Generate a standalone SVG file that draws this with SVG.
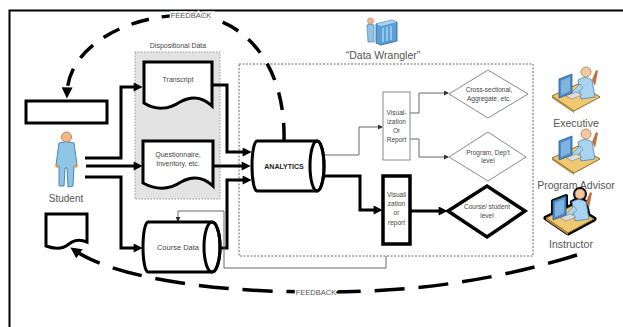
<svg xmlns="http://www.w3.org/2000/svg" xmlns:xlink="http://www.w3.org/1999/xlink" width="623" height="327" viewBox="0 0 623 327">
<style>
.thick{fill:none;stroke:#000;stroke-width:3;stroke-linejoin:miter}
.thin{fill:none;stroke:#666;stroke-width:1}
.fb{fill:none;stroke:#000;stroke-width:3.5}
.shape{fill:#fff;stroke:#000;stroke-width:3}
.t{font-family:"Liberation Sans",Arial,sans-serif;fill:#444;text-anchor:middle}
.s7{font-size:7px}
.s65{font-size:6.5px}
.lbl{font-size:10.5px;fill:#555}
.fbt{font-size:7.5px;fill:#555;stroke:#fff;stroke-width:3;paint-order:stroke}
</style>
<defs>
<marker id="ah" viewBox="0 0 10 10" refX="6" refY="5" markerWidth="10" markerHeight="9" markerUnits="userSpaceOnUse" orient="auto"><path d="M0,0 L10,5 L0,10 Z" fill="#000"/></marker>
<marker id="ahs" viewBox="0 0 10 10" refX="8" refY="5" markerWidth="5" markerHeight="5" markerUnits="userSpaceOnUse" orient="auto"><path d="M0,0 L10,5 L0,10 Z" fill="#333"/></marker>
<marker id="ahf" viewBox="0 0 10 10" refX="6" refY="5" markerWidth="12" markerHeight="11" markerUnits="userSpaceOnUse" orient="auto"><path d="M0,0 L10,5 L0,10 Z" fill="#000"/></marker>
<g id="deskPerson">
<path d="M0,30 L26,18 L48,31 L22,45 Z" fill="#f0c870" stroke="#8a6a2a" stroke-width="1"/>
<path d="M0,30 L22,45 L22,47 L0,32 Z" fill="#b08a40"/>
<path d="M26,14 Q33,9 40,14 L43,31 L29,33 Z" fill="#a9d3ef" stroke="#4f86b0" stroke-width="0.8"/>
<path d="M28,18 L19,27 L23,29 L31,22 Z" fill="#a9d3ef" stroke="#4f86b0" stroke-width="0.6"/>
<path d="M40,14 L44,4 L46,5 L43,20 Z" fill="#c07040"/>
<circle cx="34" cy="6" r="5" fill="#f3c9a0" stroke="#a07050" stroke-width="0.7"/>
<path d="M7,13 L20,8 L20,27 L7,32 Z" fill="#4f8ccc" stroke="#2b5a8a" stroke-width="0.8"/>
<path d="M9,15 L18,11 L18,25 L9,29 Z" fill="#7fb3e2"/>
<path d="M14,30 L24,26 L30,29 L20,33 Z" fill="#ddd" stroke="#777" stroke-width="0.5"/>
</g>
</defs>

<path d="M9.5,327 V10.5 H623" fill="none" stroke="#000" stroke-width="2"/>

<g id="dispositional-data">
<rect x="135" y="52" width="85" height="147" fill="#e3e3e3" stroke="#999" stroke-width="1" stroke-dasharray="1.5,1.5"/>
<text class="t s7" x="178" y="48">Dispositional Data</text>
</g>

<g id="data-wrangler">
<rect x="239" y="64" width="294" height="192" fill="none" stroke="#666" stroke-width="1" stroke-dasharray="2,1.5"/>
<g>
<path d="M376,24 L392,20 L397,22 L397,41 L381,45 L376,43 Z" fill="#5aa0d8" stroke="#2b5a8a" stroke-width="0.8"/>
<path d="M376,24 L392,20 L397,22 L381,26 Z" fill="#a8d4f2"/>
<path d="M383,28 V42 M387,27 V41 M391,26 V40" stroke="#d6ecfa" stroke-width="1"/>
<path d="M367,25 Q370,23 374,25 L374,42 L368,42 Z" fill="#8fc6e8" stroke="#4a85b0" stroke-width="0.7"/>
<circle cx="370.5" cy="21" r="3" fill="#f2b98a" stroke="#a07050" stroke-width="0.5"/>
</g>
<text class="t lbl" x="383" y="59">“Data Wrangler”</text>
</g>

<g id="connectors">
<path class="fb" d="M284,141 C286,60 240,16 190,15 C130,14 68,45 67,94" stroke-dasharray="18,13" marker-end="url(#ahf)"/>
<path class="fb" d="M577,255 C480,285 400,292 316,292 C200,292 110,275 74,250" stroke-dasharray="30,14" marker-end="url(#ahf)"/>
<path class="thick" d="M85,158 H121 V87 H139" marker-end="url(#ah)"/>
<path class="thick" d="M86,166 H139" marker-end="url(#ah)"/>
<path class="thick" d="M85,177 H121 V248 H139" marker-end="url(#ah)"/>
<path class="thick" d="M212,85 H227 V152 H248" marker-end="url(#ah)"/>
<path class="thick" d="M213,166 H247" marker-end="url(#ah)"/>
<path class="thick" d="M219,248 H227 V180 H248" marker-end="url(#ah)"/>
<path class="thick" d="M324,176 H360 V210 H379" marker-end="url(#ah)"/>
<path class="thick" d="M410,211 H444" marker-end="url(#ah)"/>
<path class="thin" d="M324,155 H359 V127 H382" marker-end="url(#ahs)"/>
<path class="thin" d="M410,113 H419 V93 H448" marker-end="url(#ahs)"/>
<path class="thin" d="M410,139 H419 V157 H448" marker-end="url(#ahs)"/>
<path class="thin" d="M386,256 V268 H224 V211 H178 V221" marker-end="url(#ahs)"/>
<text class="t fbt" x="191" y="18">FEEDBACK</text>
<text class="t fbt" x="316" y="295">FEEDBACK</text>
</g>

<g id="blank-box">
<rect x="26" y="101" width="81" height="22" class="shape"/>
</g>

<g id="student">
<path d="M59,143 Q66,140 74,143 L77,165 L74,166 L73,186 L68,187 L67,168 L65,168 L64,186 L59,186 L59,166 L56,165 Z" fill="#8fc6e8" stroke="#4a85b0" stroke-width="1"/>
<circle cx="57" cy="166" r="1.8" fill="#e8963c"/>
<circle cx="76" cy="166" r="1.8" fill="#e8963c"/>
<circle cx="66.5" cy="137" r="5" fill="#f2b98a" stroke="#b0704a" stroke-width="0.8"/>
<text class="t" x="66" y="202" style="font-size:10px;fill:#555">Student</text>
</g>

<g id="student-doc">
<path d="M46,214 H87 V242 C80,239 74,240 69,244 C63,249 54,249 46,246 Z" class="shape"/>
</g>

<g id="transcript">
<path d="M144,62 H212 V106 C201,96 191,96 180,102 C168,110 155,110 144,103 Z" class="shape"/>
<text class="t s7" x="178" y="82">Transcript</text>
</g>

<g id="questionnaire">
<path d="M143,141 H213 V186 C202,176 192,176 181,182 C169,190 156,190 143,183 Z" class="shape"/>
<text class="t s7" x="178" y="157">Questionnaire,</text>
<text class="t s7" x="178" y="166">Inventory, etc.</text>
</g>

<g id="course-data">
<path d="M148,222 H212 A8,25 0 0 1 212,272 H148 A5,25 0 0 1 148,222 Z" class="shape"/>
<ellipse cx="212" cy="247" rx="8" ry="25" fill="none" stroke="#000" stroke-width="3"/>
<text class="t" x="178" y="250" style="font-size:7.5px">Course Data</text>
</g>

<g id="analytics">
<path d="M257,141 H317 A7,25 0 0 1 317,191 H257 A5,25 0 0 1 257,141 Z" class="shape"/>
<ellipse cx="317" cy="166" rx="7" ry="25" fill="none" stroke="#000" stroke-width="3"/>
<text class="t" x="284" y="168.5" style="font-size:7px;font-weight:bold;fill:#222">ANALYTICS</text>
</g>

<g id="vis-report-upper">
<rect x="383" y="92" width="27" height="68" fill="#fff" stroke="#888" stroke-width="1"/>
<text class="t s65" x="396.5" y="115">Visual-</text>
<text class="t s65" x="396.5" y="124">ization</text>
<text class="t s65" x="396.5" y="133">Or</text>
<text class="t s65" x="396.5" y="142">Report</text>
</g>

<g id="vis-report-lower">
<rect x="383" y="176" width="27" height="68" fill="#fff" stroke="#000" stroke-width="3.5"/>
<text class="t s65" x="396.5" y="197">Visuali</text>
<text class="t s65" x="396.5" y="206">zation</text>
<text class="t s65" x="396.5" y="215">or</text>
<text class="t s65" x="396.5" y="225">report</text>
</g>

<g id="cross-sectional">
<path d="M449,94 L488,70 L528,94 L488,118 Z" fill="#fff" stroke="#888" stroke-width="1"/>
<text class="t s65" x="489" y="92">Cross-sectional,</text>
<text class="t s65" x="489" y="101">Aggregate, etc.</text>
</g>

<g id="program-level">
<path d="M449,157 L488,132 L526,157 L488,181 Z" fill="#fff" stroke="#888" stroke-width="1"/>
<text class="t s65" x="488" y="155">Program, Dep't</text>
<text class="t s65" x="488" y="163">level</text>
</g>

<g id="course-student-level">
<path d="M448,211 L487,186 L525,211 L487,237 Z" fill="#fff" stroke="#000" stroke-width="3.5"/>
<text class="t s65" x="487" y="209">Course/ student</text>
<text class="t s65" x="487" y="218">level</text>
</g>

<g id="executive">
<use xlink:href="#deskPerson" transform="translate(552,66)"/>
<text class="t lbl" x="576" y="127">Executive</text>
</g>

<g id="program-advisor">
<use xlink:href="#deskPerson" transform="translate(552,128)"/>
<text class="t lbl" x="576" y="189">Program Advisor</text>
</g>

<g id="instructor">
<g transform="translate(546,188)">
<path d="M0,30 L26,18 L48,31 L22,45 Z" fill="none" stroke="#000" stroke-width="5" stroke-linejoin="round"/>
<path d="M26,14 Q33,9 40,14 L43,31 L29,33 Z M7,13 L20,8 L20,27 L7,32 Z" fill="none" stroke="#000" stroke-width="4" stroke-linejoin="round"/>
<circle cx="34" cy="6" r="5" fill="none" stroke="#000" stroke-width="4"/>
</g>
<use xlink:href="#deskPerson" transform="translate(546,188)"/>
<text class="t lbl" x="571" y="248">Instructor</text>
</g>
</svg>
